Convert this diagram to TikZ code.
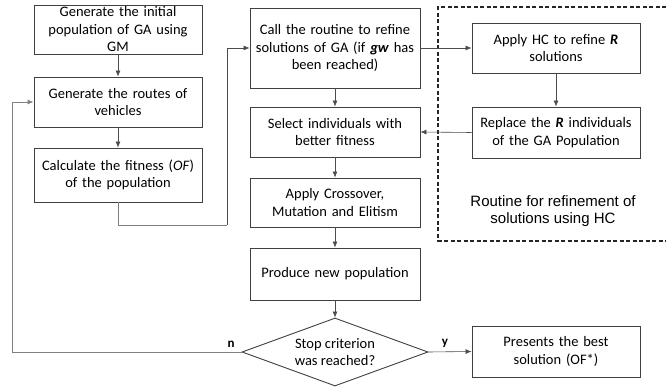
\documentclass[tikz,border=0pt]{standalone}
\usepackage{fontspec}
\setmainfont{Carlito}
\newfontfamily\arialfont{Liberation Sans}
\usetikzlibrary{shapes.geometric,arrows.meta,calc}

\tikzset{
	procbox/.style={draw=black!75, line width=0.9pt, minimum width=168pt, text width=164pt, align=center,
		inner xsep=2pt, inner ysep=1pt, font=\fontsize{14.5}{17.5}\selectfont},
	decision/.style={draw=black!75, line width=0.9pt, shape=diamond, aspect=2.7, inner sep=0pt,
		minimum width=186pt, minimum height=68pt, align=center, font=\fontsize{14.5}{17.5}\selectfont},
	link/.style={draw=black!70, line width=0.6pt},
	go/.style={link, -{Latex[length=6pt,width=5pt]}},
	loopline/.style={draw=black!50, line width=0.9pt},
	branch/.style={font=\bfseries\fontsize{13}{15}\selectfont}
}

\begin{document}
\begin{tikzpicture}[x=1pt,y=-1pt]
	\useasboundingbox (0,0) rectangle (666,387);
	% left column
	\node[procbox, minimum height=49pt] (gen) at (118,29.5) {Generate the initial\\population of GA using\\GM};
	\node[procbox, minimum height=50pt] (routes) at (118,102) {Generate the routes of\\vehicles};
	\node[procbox, minimum height=54pt] (fit) at (118,175) {Calculate the fitness (\textit{OF})\\of the population};
	% middle column
	\node[procbox, minimum width=170pt, minimum height=80pt] (call) at (335,48) {Call the routine to refine\\solutions of GA (if \textbf{\textit{gw}} has\\been reached)};
	\node[procbox, minimum width=170pt, minimum height=50pt] (sel) at (335,132) {Select individuals with\\better fitness};
	\node[procbox, minimum width=170pt, minimum height=49pt] (cross) at (335,202.5) {Apply Crossover,\\Mutation and Elitism};
	\node[procbox, minimum width=170pt, minimum height=52pt] (prod) at (335,274) {Produce new population};
	\node[decision] (stop) at (335,352) {Stop criterion\\was reached?};
	% routine for refinement
	\draw[black!85, line width=1.2pt, dash pattern=on 4pt off 2.5pt] (666,7) -| (438,241) -- (666,241);
	\node[procbox, minimum height=50pt] (hc) at (556,48) {Apply HC to refine \textbf{\textit{R}}\\solutions};
	\node[procbox, minimum height=51pt] (rep) at (556,132.5) {Replace the \textbf{\textit{R}} individuals\\of the GA Population};
	\node[align=center, font=\arialfont\fontsize{15}{17.5}\selectfont] (routine) at (553,211) {Routine for refinement of\\solutions using HC};
	\node[procbox, minimum height=51pt] (best) at (556,351.5) {Presents the best\\solution (OF*)};
	% connectors
	\coordinate (loopA) at (227,225);
	\coordinate (loopB) at (12,352);
	\draw[go] (gen) -- (routes);
	\draw[go] (routes) -- (fit);
	\draw[loopline] (fit.south) |- (loopA);
	\draw[link, -{Latex[length=6pt,width=5pt]}] (loopA) |- (call.west);
	\draw[go] (call) -- (sel);
	\draw[go] (sel) -- (cross);
	\draw[go] (cross) -- (prod);
	\draw[go] (prod) -- (stop);
	\draw[go] (call.east) -- (hc.west);
	\draw[go] (hc) -- (rep);
	\draw[go] (rep.west) -- (sel.east);
	\draw[go] (stop.east) -- node[above=1pt, pos=0.38, branch] {y} (best.west);
	\draw[loopline, -{Latex[length=6pt,width=5pt]}] (stop.west) -- node[above=1pt, pos=0.045, branch] {n} (loopB) |- (routes.west);
\end{tikzpicture}
\end{document}
